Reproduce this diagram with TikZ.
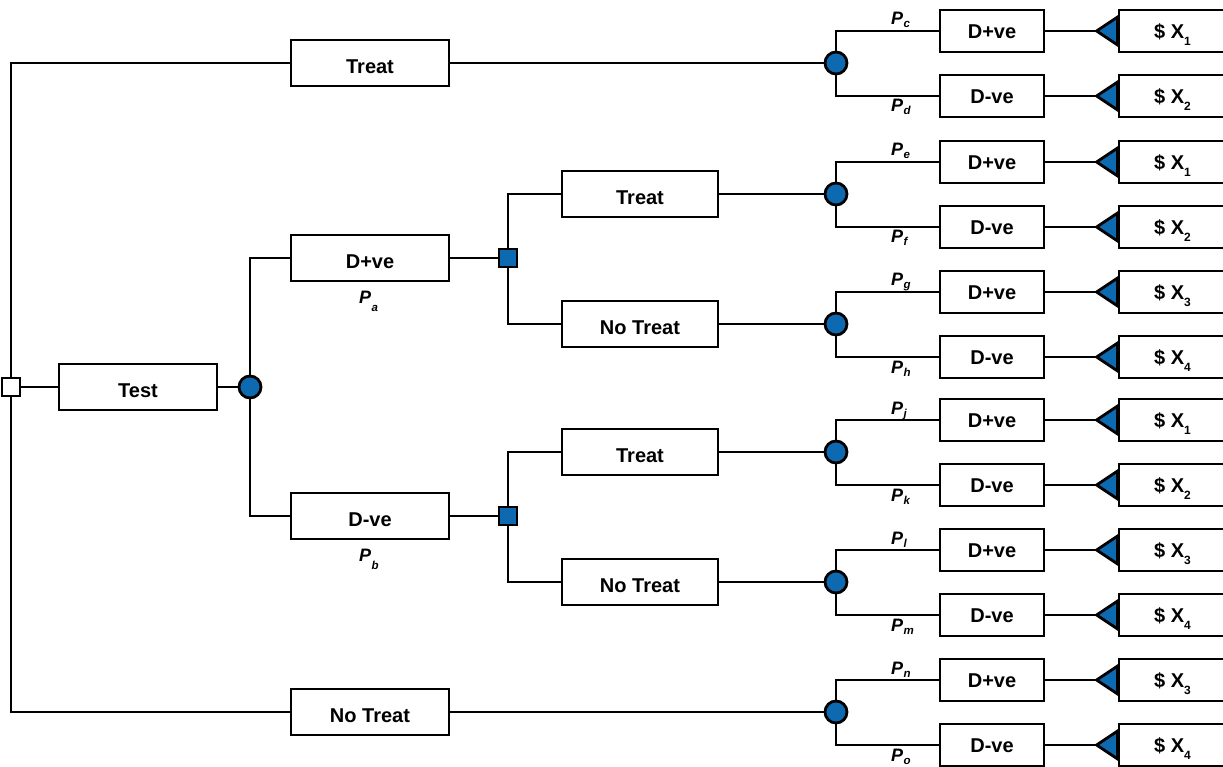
\documentclass[tikz,border=0pt]{standalone}
\usepackage{fontspec}
\setmainfont{Liberation Sans}
\definecolor{nodeblue}{RGB}{14,106,176}
% probability label: bold italic P with a lowered index
\newcommand{\plab}[2][3pt]{{\fontsize{18}{18}\selectfont\bfseries\itshape P\kern0.5pt\raisebox{-#1}{\fontsize{11.5}{11.5}\selectfont #2}}}
% payoff label: $ X with a lowered index
\newcommand{\pay}[1]{{\$ X\smash{\raisebox{-7pt}{\fontsize{12}{12}\selectfont #1}}}}
\begin{document}
\begin{tikzpicture}[x=1pt,y=-1pt,
  wire/.style={draw=black,line width=2.8pt},
  box/.style={draw,line width=2.8pt,fill=white,inner sep=0pt,
    minimum width=158pt,minimum height=46pt,
    text height=21.5pt,text depth=0pt,
    font=\fontsize{20}{24}\selectfont\bfseries},
  outbox/.style={box,minimum width=104pt,minimum height=42pt,
    text height=14.4pt},
  paybox/.style={outbox,minimum width=107pt},
  chance/.style={circle,draw,line width=2.8pt,fill=nodeblue,minimum size=22pt,inner sep=0pt},
  decision/.style={rectangle,draw,line width=2.8pt,fill=nodeblue,minimum size=18pt,inner sep=0pt},
  rootdec/.style={decision,fill=white},
  plabel/.style={anchor=base west,inner sep=0pt}
]
\useasboundingbox (0,0) rectangle (1223,767);

% root decision and the test branch
\node[rootdec] (root) at (11,387) {};
\node[box] (test) at (138,387) {Test};
\node[chance] (ctest) at (250,387) {};
\node[box] (dpos) at (370,258) {D+ve};
\node[box] (dneg) at (370,516) {D-ve};
\node[plabel] (pa) at (359,303) {\plab[8pt]{a}};
\node[plabel] (pb) at (359,561) {\plab[8pt]{b}};
\node[box] (treat0) at (370,63) {Treat};
\node[box] (notreat0) at (370,712) {No Treat};

% second-stage decisions
\node[decision] (dec1) at (508,258) {};
\node[decision] (dec2) at (508,516) {};
\node[box,minimum width=156pt] (treat1) at (640,194) {Treat};
\node[box,minimum width=156pt] (notreat1) at (640,324) {No Treat};
\node[box,minimum width=156pt] (treat2) at (640,452) {Treat};
\node[box,minimum width=156pt] (notreat2) at (640,582) {No Treat};

\draw[wire] (root) -- (test);
\draw[wire] (test) -- (ctest);
\draw[wire] (root) |- (treat0.west);
\draw[wire] (root) |- (notreat0.west);
\draw[wire] (ctest) |- (dpos.west);
\draw[wire] (ctest) |- (dneg.west);
\draw[wire] (dpos) -- (dec1);
\draw[wire] (dneg) -- (dec2);
\draw[wire] (dec1) |- (treat1.west);
\draw[wire] (dec1) |- (notreat1.west);
\draw[wire] (dec2) |- (treat2.west);
\draw[wire] (dec2) |- (notreat2.west);

% terminal chance nodes with outcomes and payoffs
\foreach \src/\cy/\pu/\pl/\xu/\xl/\k in {
    treat0/63/c/d/1/2/1,
    treat1/194/e/f/1/2/2,
    notreat1/324/g/h/3/4/3,
    treat2/452/j/k/1/2/4,
    notreat2/582/l/m/3/4/5,
    notreat0/712/n/o/3/4/6}{
  \node[chance] (ch\k) at (836,\cy) {};
  \draw[wire] (\src.east) -- (ch\k);
  \node[outbox] (up\k) at (992,\cy-32) {D+ve};
  \node[outbox] (lo\k) at (992,\cy+33) {D-ve};
  \draw[wire] (ch\k) |- (up\k.west);
  \draw[wire] (ch\k) |- (lo\k.west);
  \node[plabel] (pu\k) at (891,\cy-38) {\plab{\pu}};
  \node[plabel] (pl\k) at (891,\cy+49) {\plab{\pl}};
  \node[paybox] (payu\k) at (1172.5,\cy-32) {\pay{\xu}};
  \node[paybox] (payl\k) at (1172.5,\cy+33) {\pay{\xl}};
  \coordinate (tipu\k) at ([xshift=-21pt]payu\k.west);
  \coordinate (tipl\k) at ([xshift=-21pt]payl\k.west);
  \draw[wire] (up\k.east) -- (tipu\k);
  \draw[wire] (lo\k.east) -- (tipl\k);
  \draw[fill=nodeblue,line width=2.8pt,line join=miter]
    ([yshift=-14pt]payu\k.west) -- (tipu\k) -- ([yshift=14pt]payu\k.west) -- cycle;
  \draw[fill=nodeblue,line width=2.8pt,line join=miter]
    ([yshift=-14pt]payl\k.west) -- (tipl\k) -- ([yshift=14pt]payl\k.west) -- cycle;
}
\end{tikzpicture}
\end{document}
